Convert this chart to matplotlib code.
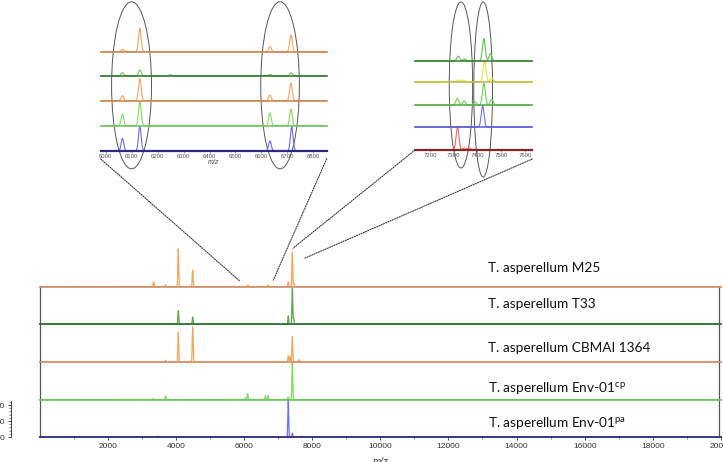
import numpy as np
import matplotlib
matplotlib.use('Agg')
import matplotlib.pyplot as plt
from matplotlib.patches import Ellipse, ConnectionPatch
from matplotlib.ticker import FixedLocator

plt.rcParams['font.family'] = ['Liberation Sans', 'DejaVu Sans']
plt.rcParams['mathtext.fontset'] = 'custom'
plt.rcParams['mathtext.rm'] = 'Lato'

# ---- main spectra: (m/z, intensity) peak lists, bottom lane first
env_pa_peaks = [(3480, 3), (7300, 119), (7420, 12), (7700, 3)]
env_cp_peaks = [(3350, 3), (3703, 12), (6050, 6), (6110, 19), (6630, 12), (6710, 12), (7300, 9), (7420, 119)]
cbmai_peaks = [(3703, 5), (4073, 92), (4495, 109), (7300, 19), (7350, 16), (7420, 79), (7620, 7)]
t33_peaks = [(3703, 3), (4073, 43), (4495, 23), (7300, 26), (7420, 113), (7460, 19)]
m25_peaks = [(3351, 15), (3703, 6), (4073, 118), (4495, 52), (6110, 5), (6700, 5), (7300, 15), (7420, 108), (7470, 10)]

lane_base = [0, 117, 235, 352, 470]
lane_names = [r'T. asperellum Env-01$^{\mathrm{pa}}$', r'T. asperellum Env-01$^{\mathrm{cp}}$',
              'T. asperellum CBMAI 1364', 'T. asperellum T33', 'T. asperellum M25']
name_y = [43, 150, 277, 415, 528]
peak_cols = ['#7070f0', '#80dc5c', '#f5a45e', '#5aa848', '#f5a45e']
base_cols = ['#3a3a8a', '#70c060', '#d0906a', '#2f6b2f', '#d0906a']

# ---- zoom 6000-6800
z1_blue = [(6064, 12.3), (6131, 24.7), (6633, 9.7), (6717, 24)]
z1_green = [(6064, 11.7), (6131, 24.3), (6633, 12.7), (6714, 16.7)]
z1_orange2 = [(6064, 5), (6131, 22.3), (6633, 5.7), (6714, 17.7)]
z1_dkgreen = [(6064, 3), (6131, 5.7), (6250, 1), (6633, 1.2), (6714, 3)]
z1_orange1 = [(6064, 2.4), (6131, 23.4), (6633, 5), (6714, 16.7)]
z1_base = [0, 25, 50, 75, 99]
z1_peak_cols = ['#6a6af5', '#80dc5c', '#f5a45e', '#70c85a', '#f5a45e']
z1_base_cols = ['#2a2a80', '#6cc060', '#c8804a', '#2f6b2f', '#c8804a']

# ---- zoom 7150-7650
z2_red = [(7316, 23.3), (7345, 2), (7365, 2)]
z2_blue = [(7422, 21.3)]
z2_green = [(7315, 6.7), (7344, 4), (7390, 3), (7427, 21.7), (7460, 5.7)]
z2_yellow = [(7320, 2), (7340, 2), (7430, 21.6), (7460, 4)]
z2_dkgreen = [(7319, 5), (7345, 2), (7427, 22.4), (7455, 7.4)]
z2_base = [0, 23, 45, 68, 89]
z2_peak_cols = ['#ff6060', '#7070f0', '#6ad44a', '#e8e040', '#60c050']
z2_base_cols = ['#8b2525', '#5858d8', '#50a840', '#b8b840', '#2f7a2f']


def trace(ax, x, peaks, base, sigma, pcol, bcol, lw=0.9):
    y = np.full_like(x, float(base))
    for c, h in peaks:
        y += h * np.exp(-0.5 * ((x - c) / sigma) ** 2)
    ax.plot(x, y, color=pcol, lw=lw, clip_on=False)
    ax.plot([x[0], x[-1]], [base, base], color=bcol, lw=lw + 0.3, zorder=3, clip_on=False)


fig = plt.figure(figsize=(7.23, 4.62), dpi=100)

# main stacked spectra
ax = fig.add_axes([39.5 / 723, 25 / 462, 681.5 / 723, 192 / 462])
ax.set_xlim(0, 20000)
ax.set_ylim(0, 600)
xm = np.arange(0, 20001, 2.0)
for peaks, b, pc, bc in zip([env_pa_peaks, env_cp_peaks, cbmai_peaks, t33_peaks, m25_peaks],
                            lane_base, peak_cols, base_cols):
    trace(ax, xm, peaks, b, 12, pc, bc)
for name, ny in zip(lane_names, name_y):
    ax.text(13170, ny, name, family='Lato', fontsize=9.8, va='center', color='#111111')
ax.plot([0, 0], [0, lane_base[-1]], color='#555555', lw=0.9, clip_on=False)
ax.plot([19940, 19940], [0, lane_base[-1]], color='#555555', lw=0.9, clip_on=False)

for s in ['top', 'right']:
    ax.spines[s].set_visible(False)
ax.spines['bottom'].set_color('#3a3a8a')
ax.spines['bottom'].set_linewidth(1.2)
ax.spines['left'].set_position(('outward', 20.5))
ax.spines['left'].set_bounds(0, 113)
ax.spines['left'].set_color('#444444')
ax.spines['left'].set_linewidth(0.7)
ax.set_xticks(range(2000, 20001, 2000))
ax.xaxis.set_minor_locator(FixedLocator(range(1000, 20000, 2000)))
ax.yaxis.set_major_locator(FixedLocator([0, 50, 100]))
ax.yaxis.set_minor_locator(FixedLocator(range(0, 111, 10)))
ax.tick_params(axis='both', which='major', labelsize=6, length=2.5, width=0.6, pad=2,
               colors='#333333')
ax.tick_params(axis='both', which='minor', length=1.5, width=0.5, colors='#555555')
ax.set_xlabel('m/z', style='italic', fontsize=7, labelpad=5, color='#333333')

# zoom 1
ax1 = fig.add_axes([100.7 / 723, (462 - 150.7) / 462, 226 / 723, 130.7 / 462])
ax1.set_xlim(5980, 6852)
ax1.set_ylim(0, 130.7)
x1 = np.linspace(5980, 6852, 2000)
for peaks, b, pc, bc in zip([z1_blue, z1_green, z1_orange2, z1_dkgreen, z1_orange1],
                            z1_base, z1_peak_cols, z1_base_cols):
    trace(ax1, x1, peaks, b, 5, pc, bc, lw=0.8)
ax1.add_patch(Ellipse((6099, 65.4), 154, 167, fill=False, ec='#555555', lw=0.7, clip_on=False))
ax1.add_patch(Ellipse((6672, 65.4), 149, 167, fill=False, ec='#555555', lw=0.7, clip_on=False))
ax1.set_xticks(range(6000, 6801, 100))
ax1.set_yticks([])
ax1.tick_params(axis='x', labelsize=4.3, length=1.5, width=0.4, pad=1, colors='#555555')
ax1.set_xlabel('m/z', style='italic', fontsize=5, labelpad=0, color='#444444')
for s in ['top', 'right', 'left']:
    ax1.spines[s].set_visible(False)
ax1.spines['bottom'].set_color('#2a2a80')
ax1.spines['bottom'].set_linewidth(1.6)
ax1.patch.set_visible(False)

# zoom 2
ax2 = fig.add_axes([415 / 723, (462 - 150) / 462, 117.3 / 723, 130 / 462])
ax2.set_xlim(7137, 7631)
ax2.set_ylim(0, 130)
x2 = np.linspace(7137, 7631, 1500)
for peaks, b, pc, bc in zip([z2_red, z2_blue, z2_green, z2_yellow, z2_dkgreen],
                            z2_base, z2_peak_cols, z2_base_cols):
    trace(ax2, x2, peaks, b, 6, pc, bc, lw=0.8)
ax2.add_patch(Ellipse((7330.5, 65), 98.5, 166, fill=False, ec='#555555', lw=0.7, clip_on=False))
ax2.add_patch(Ellipse((7424, 60.5), 79, 175, fill=False, ec='#555555', lw=0.7, clip_on=False))
ax2.set_xticks(range(7200, 7601, 100))
ax2.set_yticks([])
ax2.tick_params(axis='x', labelsize=4.3, length=1.5, width=0.4, pad=1, colors='#555555')
for s in ['top', 'right', 'left']:
    ax2.spines[s].set_visible(False)
ax2.spines['bottom'].set_color('#8b2525')
ax2.spines['bottom'].set_linewidth(1.6)
ax2.patch.set_visible(False)

# dotted connectors
for axa, pa, pb in [(ax1, (5980, -8.3), (5883, 487)), (ax1, (6852, -8), (6860, 490)),
                    (ax2, (7137, 0), (7440, 590)), (ax2, (7631, -9), (7790, 559))]:
    con = ConnectionPatch(xyA=pa, coordsA=axa.transData, xyB=pb, coordsB=ax.transData,
                          ls=(0, (1, 1.2)), color='#333333', lw=0.8)
    fig.add_artist(con)

fig.savefig('out.png', dpi=100)
